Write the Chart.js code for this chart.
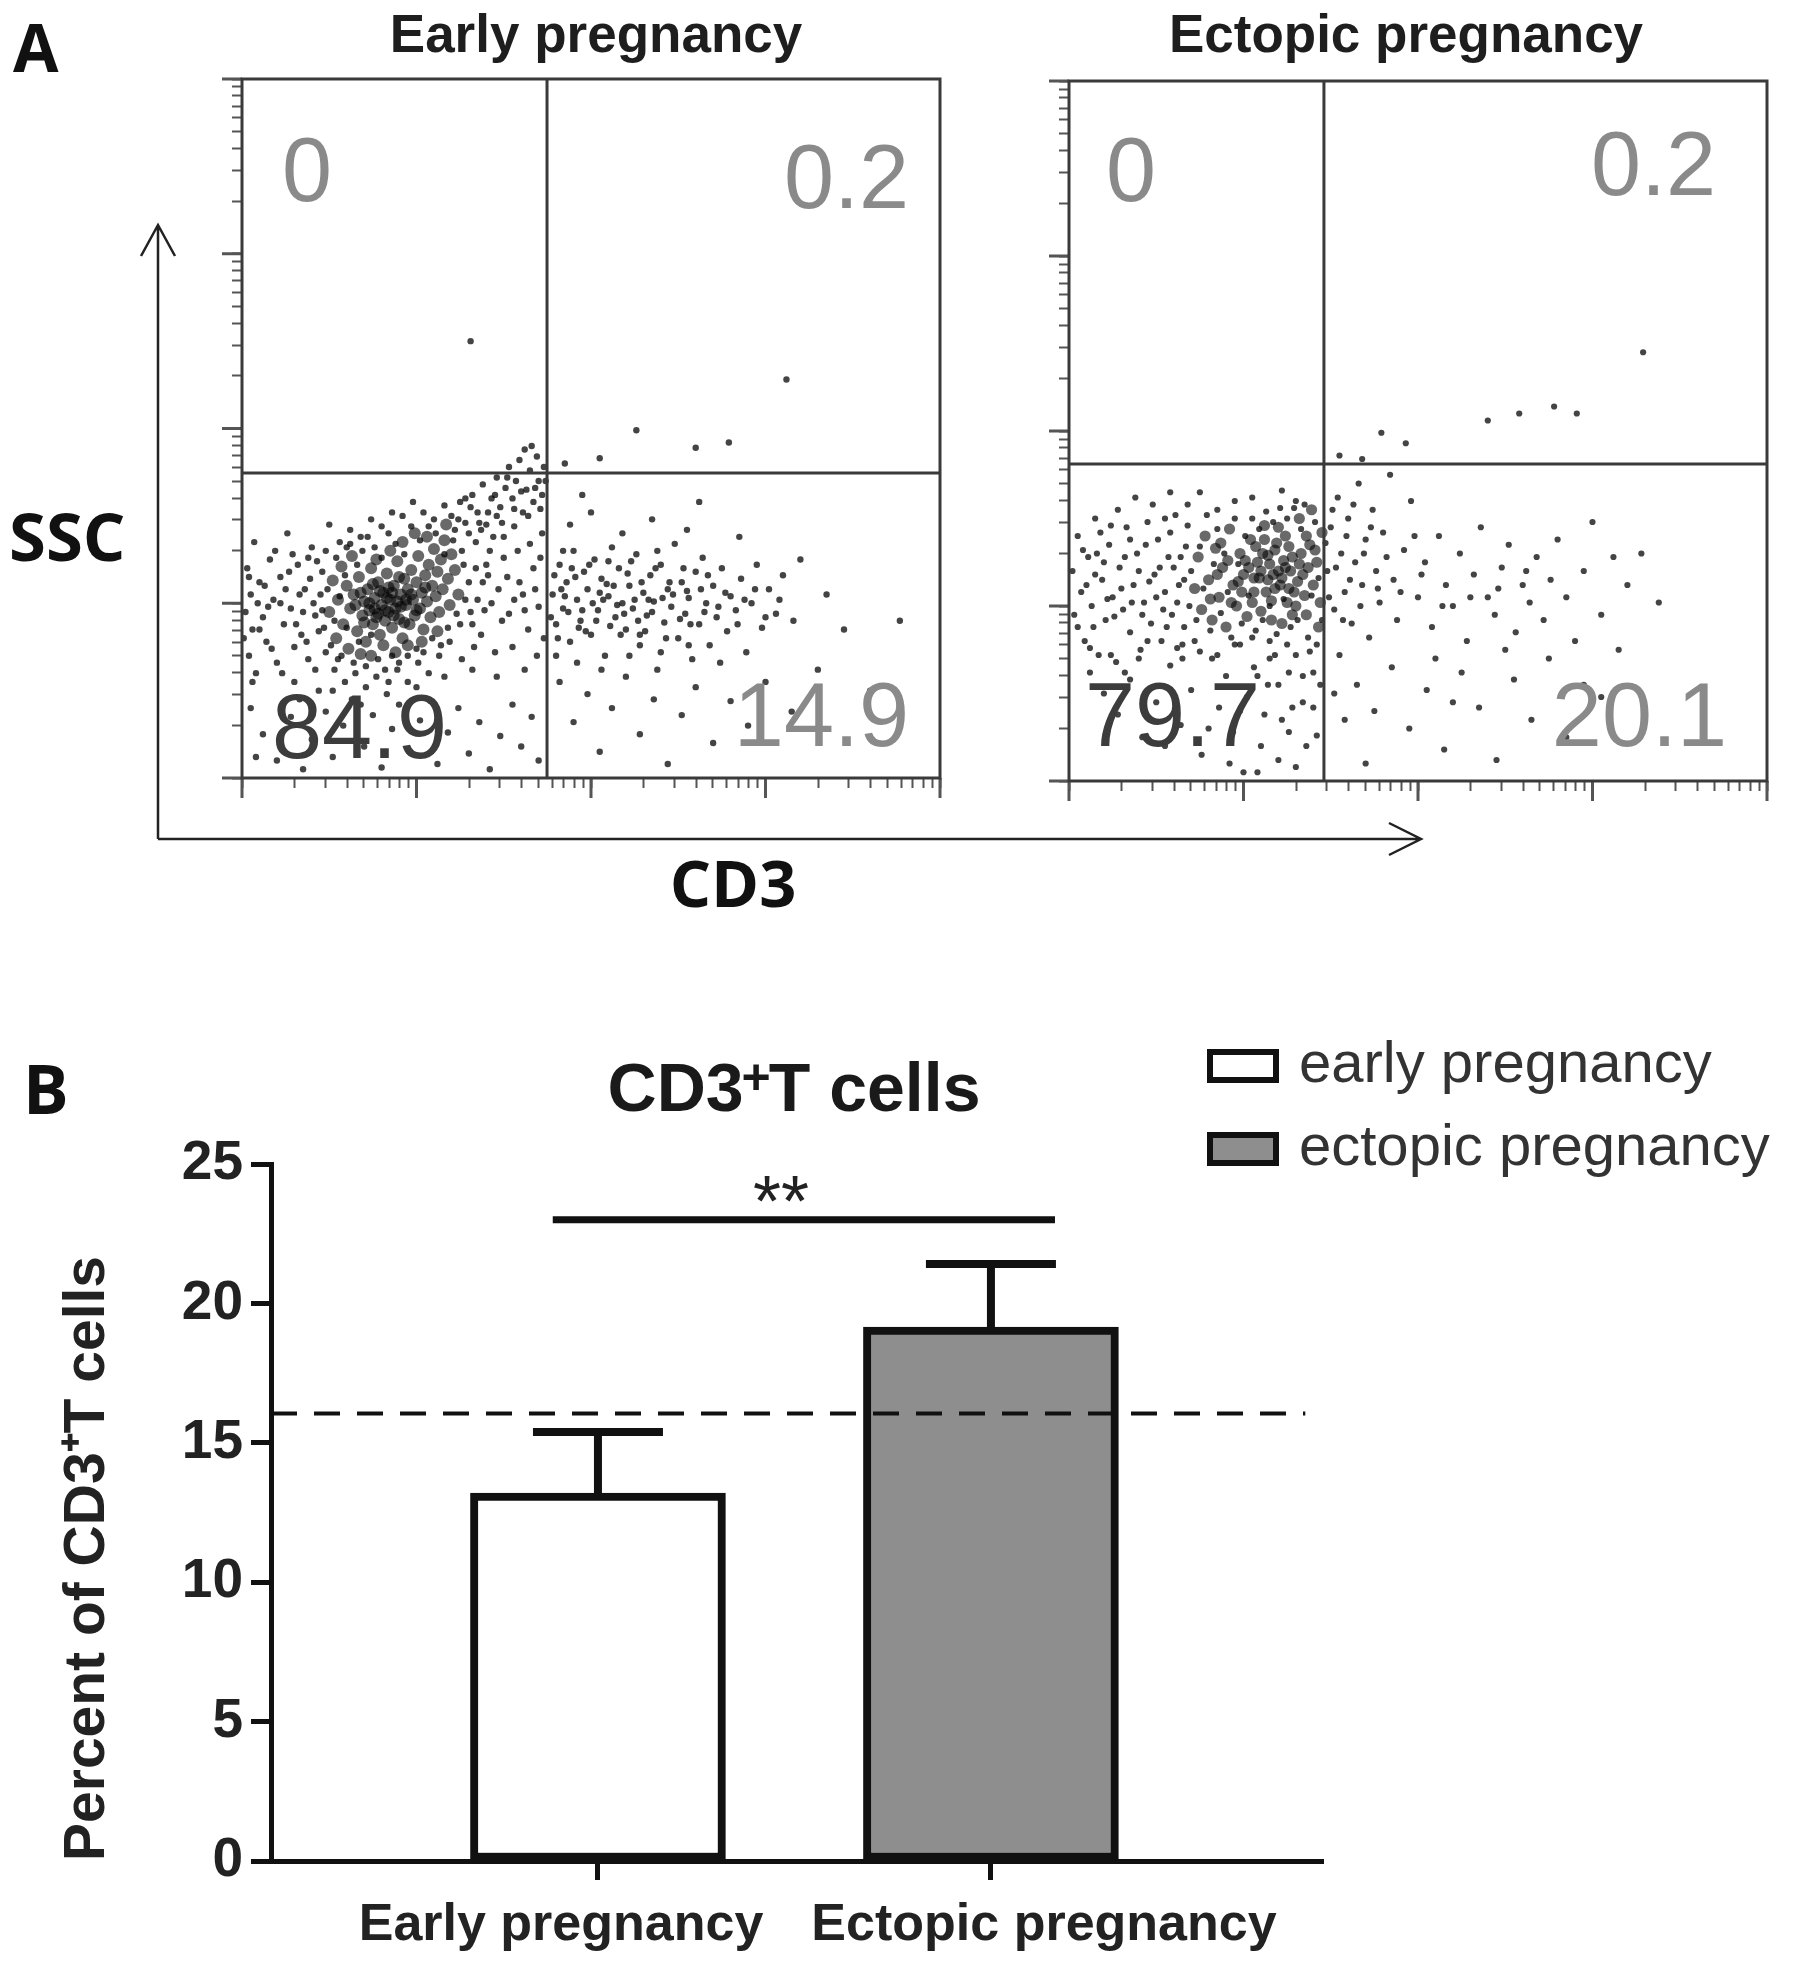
<!DOCTYPE html>
<html>
<head>
<meta charset="utf-8">
<script src="https://cdn.jsdelivr.net/npm/chart.js@4.4.1/dist/chart.umd.min.js"></script>
<style>
  body { margin: 0; background: #fff; width: 1795px; height: 1968px; position: relative; overflow: hidden; }
  canvas { position: absolute; }
  svg { position: absolute; left: 0; top: 0; pointer-events: none; }
</style>
</head>
<body>
<canvas id="earlyPlot" width="960" height="860" style="left:0;top:0"></canvas>
<canvas id="ectopicPlot" width="835" height="860" style="left:960px;top:0"></canvas>
<canvas id="barPlot" width="1795" height="938" style="left:0;top:1030px"></canvas>
<svg width="1795" height="1968" font-family="Open Sans" fill="#111">
  <text x="13" y="72" font-size="66" font-weight="700">A</text>
  <text x="23" y="1114" font-size="68" font-weight="700">B</text>
  <text x="9" y="561" font-size="67" font-weight="700">SSC</text>
  <text x="733" y="907" font-size="65" font-weight="700" text-anchor="middle">CD3</text>
  <path d="M158 839 V226 M141 256 L158 225 L175 256 M158 839 H1420 M1389 823 L1421 839 L1389 855"
        stroke="#222" stroke-width="2.5" fill="none"/>
</svg>
<script>
// ---- panel A: flow plots, positions in decades above 10 (x = CD3, y = SSC) ----
var earlyCore = [
  [0.50,0.95],[0.55,1.02],[0.58,0.88],[0.60,1.10],[0.62,0.97],[0.64,1.05],[0.66,0.84],[0.67,1.15],[0.69,0.93],[0.70,1.01],
  [0.71,0.78],[0.72,1.08],[0.73,0.96],[0.74,1.20],[0.75,0.88],[0.76,1.03],[0.77,0.92],[0.78,1.12],[0.79,0.82],[0.80,0.99],
  [0.81,1.06],[0.82,0.90],[0.83,1.17],[0.84,0.95],[0.85,1.02],[0.86,0.86],[0.87,1.10],[0.88,0.97],[0.89,1.24],[0.90,0.91],
  [0.91,1.05],[0.92,0.80],[0.93,1.14],[0.94,0.99],[0.95,1.08],[0.96,0.88],[0.97,1.19],[0.98,1.02],[0.99,0.93],[1.00,1.12],
  [1.01,1.27],[1.02,0.97],[1.03,1.06],[1.04,0.85],[1.05,1.16],[1.06,1.01],[1.07,1.22],[1.08,0.92],[1.09,1.10],[1.10,1.31],
  [1.11,1.04],[1.12,1.18],[1.13,0.95],[1.14,1.25],[1.15,1.08],[1.16,1.36],[1.18,1.14],[1.19,0.99],[1.20,1.28],[1.22,1.19],
  [0.52,1.13],[0.54,0.80],[0.57,1.21],[0.61,0.74],[0.63,1.27],[0.68,0.71],[0.65,0.99],[0.74,0.70],[0.77,1.25],[0.81,0.76],
  [0.85,1.30],[0.88,0.72],[0.92,1.35],[0.95,0.76],[0.99,1.40],[1.03,0.78],[1.06,1.38],[1.12,0.84],[1.17,1.45],[1.24,1.05],
  [0.70,0.89],[0.76,0.97],[0.83,1.03],[0.87,0.93],[0.91,0.98],[0.79,1.07],[0.73,1.00],[0.94,1.02],[0.86,1.06],[0.82,0.96],
  [0.97,1.05],[0.89,1.01],[0.78,0.94],[0.84,1.09],[0.90,1.15],[1.00,0.96],[0.75,1.11],[0.68,1.06],[0.93,0.89],[1.05,1.09]
];
var earlyEvents = [
  [0.02,0.95],[0.03,1.20],[0.04,0.70],[0.05,1.05],[0.06,0.85],[0.07,1.35],[0.08,0.60],[0.10,1.12],[0.12,0.92],[0.14,0.78],
  [0.16,1.25],[0.18,1.02],[0.20,0.66],[0.22,1.15],[0.24,0.88],[0.26,1.40],[0.28,0.97],[0.30,0.55],[0.32,1.22],[0.34,0.82],
  [0.36,1.08],[0.38,0.68],[0.40,1.32],[0.42,0.93],[0.44,0.50],[0.46,1.18],[0.48,0.72],[0.50,1.45],[0.53,0.62],[0.56,1.35],
  [0.59,0.55],[0.62,1.42],[0.65,0.60],[0.68,1.38],[0.71,0.52],[0.74,1.48],[0.77,0.58],[0.80,1.44],[0.83,0.48],[0.86,1.52],
  [0.89,0.62],[0.92,1.50],[0.95,0.55],[0.98,1.58],[1.01,0.66],[1.04,1.52],[1.07,0.60],[1.10,1.48],[1.13,0.70],[1.16,1.56],
  [1.19,0.78],[1.22,1.42],[1.25,0.88],[1.28,1.60],[1.31,0.95],[1.34,1.35],[1.37,0.82],[1.40,1.22],[1.43,1.00],[1.46,1.50],
  [1.49,0.90],[1.52,1.15],[1.55,0.75],[1.58,1.30],[1.61,1.05],[1.64,0.85],[1.67,1.20],[1.70,0.98],[1.72,1.40],[1.69,0.70],
  [1.30,1.12],[1.35,1.02],[1.27,1.22],[1.38,1.12],[1.42,1.30],[1.33,0.75],[1.26,0.68],[1.45,0.72],[1.50,1.38],[1.56,1.02],
  [0.35,0.95],[0.45,1.05],[0.25,1.08],[0.15,0.98],[0.38,1.26],[0.30,0.75],[0.55,0.68],[0.47,0.86],[0.60,1.32],[0.42,0.62],
  [0.22,1.00],[0.27,1.18],[0.31,0.88],[0.33,1.05],[0.37,0.78],[0.39,1.14],[0.41,1.00],[0.43,1.24],[0.44,0.84],[0.46,0.96],
  [0.48,1.30],[0.49,1.08],[0.51,0.76],[0.53,0.90],[0.54,1.26],[0.56,1.04],[0.57,0.70],[0.59,1.16],[0.60,0.86],[0.62,1.34],
  [0.64,0.66],[0.66,1.22],[0.67,0.78],[0.69,1.30],[0.71,0.64],[0.72,1.38],[0.74,0.82],[0.76,1.32],[0.78,0.68],[0.80,1.26],
  [0.82,0.62],[0.84,1.40],[0.86,0.70],[0.88,1.34],[0.90,0.66],[0.93,1.28],[0.95,0.70],[0.97,1.44],[1.00,0.74],[1.02,1.36],
  [1.04,0.72],[1.07,1.44],[1.09,0.80],[1.11,1.40],[1.14,0.76],[1.16,1.28],[1.18,0.86],[1.21,1.36],[1.23,0.94],[1.26,1.30],
  [1.28,1.02],[1.30,1.40],[1.32,0.88],[1.34,1.20],[1.36,1.46],[1.39,0.96],[1.41,1.16],[1.44,1.38],[1.47,1.08],[1.50,1.26],
  [1.53,0.94],[1.56,1.44],[1.59,1.12],[1.62,0.96],[1.65,1.34],[1.68,1.08],[1.71,1.26],[1.24,1.48],[1.31,1.55],[1.37,1.42],
  [1.41,1.52],[1.45,1.62],[1.49,1.46],[1.52,1.72],[1.56,1.54],[1.60,1.64],[1.64,1.50],[1.68,1.66],[1.71,1.54],[1.74,1.70],
  [0.10,0.85],[0.13,1.10],[0.17,0.74],[0.19,1.30],[0.23,0.60],[0.29,1.28],[0.09,1.00],[0.04,1.15],[0.01,0.80],[0.06,0.55],
  [0.33,0.45],[0.52,0.50],[0.68,0.42],[0.84,0.55],[1.00,0.52],[1.16,0.58],[1.32,0.62],[1.46,0.58],[1.62,0.62],[1.73,0.80],
  [1.20,1.50],[1.25,1.58],[1.28,1.46],[1.32,1.62],[1.35,1.52],[1.38,1.68],[1.40,1.45],[1.43,1.60],[1.46,1.72],[1.48,1.55],
  [1.51,1.66],[1.53,1.78],[1.55,1.60],[1.57,1.70],[1.59,1.82],[1.61,1.52],[1.63,1.65],[1.65,1.76],[1.67,1.58],[1.69,1.84],
  [1.70,1.70],[1.72,1.62],[1.73,1.78],[1.62,1.88],[1.66,1.90],
  [0.05,0.40],[0.12,0.25],[0.20,0.10],[0.28,0.35],[0.35,0.05],[0.40,0.22],[0.48,0.38],[0.52,0.12],[0.58,0.30],[0.63,0.45],
  [0.70,0.18],[0.75,0.36],[0.80,0.06],[0.86,0.28],[0.90,0.42],[0.96,0.15],[1.02,0.33],[1.08,0.44],[1.12,0.08],[1.18,0.26],
  [1.24,0.40],[1.30,0.14],[1.36,0.32],[1.42,0.05],[1.48,0.24],[1.55,0.42],[1.60,0.18],[1.66,0.35],[1.70,0.10],[0.08,0.12],
  [1.78,1.05],[1.80,0.88],[1.82,1.22],[1.84,0.97],[1.86,1.12],[1.88,0.78],[1.90,1.30],[1.92,1.02],[1.94,0.90],[1.96,1.18],
  [1.98,1.08],[2.00,0.82],[2.02,1.25],[2.04,0.96],[2.06,1.14],[2.08,0.70],[2.10,1.04],[2.12,1.32],[2.14,0.92],[2.16,1.20],
  [2.18,1.00],[2.20,0.85],[2.22,1.10],[2.24,0.97],[2.26,1.28],[2.28,0.76],[2.30,1.06],[2.32,0.93],[2.34,1.16],[2.36,1.01],
  [2.38,0.62],[2.40,1.22],[2.42,0.89],[2.44,1.08],[2.46,0.98],[2.48,1.34],[2.50,0.80],[2.52,1.12],[2.54,0.94],[2.56,1.03],
  [2.58,0.68],[2.60,1.18],[2.62,0.88],[2.64,1.26],[2.66,1.00],[2.68,0.76],[2.70,1.10],[2.72,0.92],[2.75,1.20],[2.78,0.84],
  [2.80,1.04],[2.83,0.96],[2.86,1.14],[2.89,0.72],[2.92,1.00],[2.95,1.22],[2.98,0.86],[3.02,1.08],[3.06,0.94],[3.10,1.16],
  [1.85,1.04],[1.95,0.96],[2.05,1.06],[2.15,0.99],[2.25,1.02],[2.35,0.95],[2.45,1.12],[2.55,1.07],[2.11,0.87],[2.21,1.17],
  [2.31,0.84],[1.91,1.15],[2.01,1.00],[2.41,1.03],[2.51,0.91],[2.65,0.95],[2.19,0.94],[2.29,1.12],[1.97,0.84],[2.09,1.11],
  [1.77,0.92],[1.79,1.16],[1.81,0.80],[1.83,1.08],[1.87,0.95],[1.89,1.20],[1.93,0.86],[1.99,1.22],[2.03,0.90],[2.07,1.02],
  [2.13,1.10],[2.17,0.82],[2.23,1.24],[2.27,0.90],[2.33,1.02],[2.37,1.20],[2.43,0.80],[2.47,1.05],[2.53,1.20],[2.57,0.88],
  [2.63,1.08],[2.67,1.16],[2.73,0.98],[2.77,1.06],[2.84,0.88],[2.88,1.02],[2.94,1.08],[3.00,0.92],[3.08,1.02],[3.16,0.90],
  [1.80,0.70],[1.92,0.66],[2.06,0.62],[2.22,0.70],[2.40,0.72],[2.56,0.76],[2.74,0.66],[1.84,1.30],[2.10,1.24],[2.38,1.30],
  [1.82,0.55],[1.90,0.32],[1.98,0.48],[2.05,0.15],[2.12,0.40],[2.20,0.58],[2.28,0.25],[2.36,0.45],[2.44,0.08],[2.52,0.36],
  [2.60,0.52],[2.70,0.20],[2.80,0.44],[2.90,0.30],[3.00,0.55],[3.15,0.38],[3.30,0.62],[3.45,0.85],[3.60,0.50],[3.77,0.90],
  [1.88,1.45],[2.00,1.52],[2.18,1.40],[2.35,1.48],[2.55,1.42],[2.85,1.38],[3.20,1.25],[3.35,1.05],[1.95,1.62],[2.62,1.58],
  [1.31,2.50],[3.12,2.28],[2.26,1.99],[2.79,1.92],[2.60,1.89],[1.85,1.80],[2.05,1.83],[2.28,0.82]
];
var ectopicCore = [
  [0.72,1.10],[0.74,1.28],[0.76,0.98],[0.78,1.40],[0.80,1.15],[0.82,0.92],[0.84,1.33],[0.86,1.05],[0.88,1.22],[0.90,0.88],
  [0.92,1.44],[0.94,1.12],[0.96,1.00],[0.98,1.30],[1.00,1.18],[1.02,0.94],[1.04,1.38],[1.06,1.08],[1.08,1.25],[1.10,0.97],
  [1.12,1.46],[1.14,1.15],[1.16,1.03],[1.18,1.32],[1.20,1.20],[1.22,0.90],[1.24,1.40],[1.26,1.10],[1.28,1.28],[1.30,1.00],
  [1.32,1.50],[1.34,1.18],[1.36,0.95],[1.38,1.35],[1.40,1.12],[1.42,1.25],[1.44,1.02],[1.45,1.42],[1.43,0.88],[1.39,1.55],
  [0.85,1.18],[0.91,1.26],[0.97,1.14],[1.03,1.22],[1.09,1.16],[1.15,1.24],[1.21,1.12],[1.27,1.20],[1.33,1.30],[1.13,1.08],
  [1.05,1.02],[1.19,1.36],[1.25,1.02],[1.31,1.14],[1.37,1.22],[0.99,1.08],[1.11,1.30],[1.17,1.18],[1.23,1.26],[1.29,1.08],
  [1.07,1.34],[0.93,1.02],[1.01,1.26],[1.35,1.06],[1.41,1.32],[0.81,1.04],[0.87,1.36],[1.20,1.45],[1.28,0.95],[1.16,0.92],
  [1.10,1.20],[1.22,1.16],[1.18,1.10],[1.14,1.29],[1.26,1.34],[1.06,1.16],[1.32,1.24],[1.12,1.38],[1.24,1.22],[1.36,1.40]
];
var ectopicEvents = [
  [0.02,1.20],[0.03,0.95],[0.05,1.40],[0.07,1.08],[0.09,0.80],[0.11,1.28],[0.13,1.00],[0.15,1.50],[0.17,0.72],[0.19,1.15],
  [0.21,0.92],[0.23,1.35],[0.25,1.05],[0.27,0.68],[0.29,1.22],[0.31,0.98],[0.33,1.45],[0.35,0.85],[0.37,1.12],[0.39,1.30],
  [0.41,0.75],[0.43,1.02],[0.45,1.48],[0.47,0.90],[0.49,1.18],[0.51,1.38],[0.53,0.80],[0.55,1.08],[0.57,1.28],[0.59,0.95],
  [0.61,1.52],[0.63,1.12],[0.65,0.70],[0.67,1.34],[0.69,1.00],[0.10,1.12],[0.20,1.25],[0.30,1.10],[0.40,1.20],[0.50,1.05],
  [0.60,1.22],[0.14,0.88],[0.26,0.94],[0.36,1.02],[0.46,1.14],[0.56,0.88],[0.66,1.15],[0.08,1.32],[0.18,1.42],[0.28,1.55],
  [0.38,1.62],[0.48,1.58],[0.58,1.65],[0.68,1.58],[0.75,1.65],[0.95,1.60],[1.05,1.62],[1.22,1.66],[1.30,1.60],[0.85,1.55],
  [0.15,1.18],[0.22,1.04],[0.32,1.28],[0.42,0.95],[0.44,1.35],[0.52,1.22],[0.54,0.98],[0.58,1.42],[0.62,1.02],[0.64,1.28],
  [0.66,0.88],[0.68,1.46],[0.70,1.20],[0.73,0.92],[0.75,1.34],[0.77,1.10],[0.79,1.52],[0.81,0.86],[0.83,1.24],[0.85,1.44],
  [0.87,0.96],[0.89,1.30],[0.91,1.08],[0.93,0.82],[0.95,1.50],[0.97,1.24],[0.99,0.90],[1.01,1.40],[1.03,1.06],[1.05,1.50],
  [1.07,0.86],[1.09,1.44],[1.11,0.92],[1.13,1.54],[1.15,1.00],[1.17,1.48],[1.19,0.84],[1.21,1.56],[1.23,1.04],[1.25,1.50],
  [1.27,0.88],[1.29,1.56],[1.31,0.92],[1.33,1.44],[1.35,1.58],[1.37,0.82],[1.39,1.06],[1.41,1.48],[1.43,1.16],[1.45,0.92],
  [0.35,1.38],[0.45,0.80],[0.55,1.50],[0.65,0.78],[0.75,0.74],[0.85,0.72],[0.95,0.78],[1.15,0.70],[1.30,0.72],[1.42,0.78],
  [0.12,0.76],[0.05,0.88],[0.24,1.46],[0.16,1.30],[0.32,0.62],[1.08,0.60],[1.20,0.55],[1.34,0.60],[1.40,0.42],[1.26,0.28],
  [0.12,0.62],[0.20,0.50],[0.28,0.38],[0.35,0.58],[0.42,0.25],[0.50,0.45],[0.58,0.66],[0.64,0.32],[0.70,0.52],[0.76,0.15],
  [0.82,0.70],[0.86,0.42],[0.90,0.60],[0.94,0.28],[0.98,0.78],[1.02,0.48],[1.06,0.65],[1.10,0.20],[1.14,0.55],[1.18,0.72],
  [1.22,0.35],[1.26,0.62],[1.30,0.08],[1.34,0.45],[1.38,0.74],[1.42,0.26],[1.44,0.55],[1.05,0.82],[1.15,0.80],[1.25,0.78],
  [0.72,0.80],[0.62,0.76],[0.92,0.10],[1.20,0.12],[1.36,0.20],[0.80,0.30],[1.00,0.05],[1.28,0.42],[1.40,0.62],[1.12,0.38],
  [0.40,0.70],[0.24,0.72],[0.55,0.20],[1.08,0.05],[0.98,0.40],
  [1.48,1.20],[1.50,1.45],[1.52,0.98],[1.54,1.62],[1.56,1.30],[1.58,1.08],[1.60,1.50],[1.62,0.90],[1.64,1.25],[1.66,1.70],
  [1.68,1.12],[1.70,1.38],[1.72,0.82],[1.74,1.55],[1.76,1.20],[1.78,1.02],[1.80,1.42],[1.84,1.75],[1.86,1.15],[1.88,0.92],
  [1.92,1.32],[1.96,1.60],[2.00,1.05],[2.04,1.25],[2.08,0.88],[2.12,1.40],[2.16,1.12],[2.20,1.00],[2.24,1.30],[2.28,0.80],
  [2.32,1.18],[2.36,1.45],[2.40,1.05],[2.44,0.95],[2.48,1.22],[2.52,1.35],[2.56,0.85],[2.60,1.12],[2.64,1.02],[2.68,1.28],
  [2.72,0.92],[2.76,1.15],[2.80,1.38],[2.85,1.05],[2.90,0.80],[2.95,1.20],[3.00,1.48],[3.05,0.95],[3.12,1.28],[3.20,1.12],
  [3.28,1.30],[3.38,1.02],[1.55,0.72],[1.65,0.55],[1.75,0.40],[1.85,0.65],[1.95,0.30],[2.05,0.52],[2.15,0.18],[2.25,0.62],
  [2.35,0.42],[2.45,0.12],[2.55,0.58],[2.65,0.35],[2.75,0.70],[2.85,0.25],[2.95,0.55],[3.05,0.48],[3.15,0.75],[1.58,0.35],
  [1.70,0.10],[2.10,0.70],[2.50,0.75],[1.52,0.50],[2.20,0.45],
  [1.47,1.36],[1.49,1.05],[1.51,1.55],[1.53,1.22],[1.57,0.92],[1.59,1.40],[1.61,1.15],[1.63,1.58],[1.67,1.00],[1.69,1.30],
  [1.73,1.45],[1.77,1.10],[1.82,1.28],[1.90,1.08],[1.98,1.40],[2.02,1.18],[2.14,1.00],[2.30,1.05],[2.46,1.10],[2.62,1.20],
  [1.79,1.99],[1.93,1.93],[2.40,2.06],[2.58,2.10],[2.78,2.14],[2.91,2.10],[3.29,2.45],[1.55,1.86],[1.68,1.84]
];
var earlyGate = [1.748, 1.745];
var ectopicGate = [1.461, 1.811];
var earlyQuadrants = ['0', '0.2', '84.9', '14.9'];
var ectopicQuadrants = ['0', '0.2', '79.7', '20.1'];
var tickDecades = [10, 100, 1000, 10000];
var tickSteps = [1, 2, 3, 4, 5, 6, 7, 8, 9];

// ---- panel B: bar chart ----
var groups = ['Early pregnancy', 'Ectopic pregnancy'];
var legendNames = ['early pregnancy', 'ectopic pregnancy'];
var meanPct = [13.2, 19.15];
var semPct = [2.19, 2.26];
var refLine = 16.05;
var sigLevel = 23;
var yTicks = [0, 5, 10, 15, 20, 25];

var logTicks = [];
tickDecades.forEach(function(d){ tickSteps.forEach(function(s){ logTicks.push(d * s); }); });
logTicks.push(100000);

function toXY(pts) {
  return pts.map(function(p){ return {x: Math.pow(10, 1 + p[0]), y: Math.pow(10, 1 + p[1])}; });
}

var flowFrame = {
  id: 'flowFrame',
  afterDatasetsDraw: function(chart, args, o) {
    var ctx = chart.ctx, a = chart.chartArea, x = chart.scales.x, y = chart.scales.y;
    ctx.save();
    ctx.strokeStyle = '#555';
    ctx.lineWidth = 3;
    tickDecades.concat([100000]).forEach(function(v){
      var px = x.getPixelForValue(v), py = y.getPixelForValue(v);
      ctx.beginPath();
      ctx.moveTo(px, a.bottom); ctx.lineTo(px, a.bottom + 20);
      ctx.moveTo(a.left, py); ctx.lineTo(a.left - 20, py);
      ctx.stroke();
    });
    var gx = x.getPixelForValue(Math.pow(10, 1 + o.gate[0]));
    var gy = y.getPixelForValue(Math.pow(10, 1 + o.gate[1]));
    ctx.strokeStyle = '#3a3a3a';
    ctx.beginPath();
    ctx.moveTo(gx, a.top); ctx.lineTo(gx, a.bottom);
    ctx.moveTo(a.left, gy); ctx.lineTo(a.right, gy);
    ctx.stroke();
    ctx.strokeRect(a.left, a.top, a.right - a.left, a.bottom - a.top);

    ctx.fillStyle = '#1e1e1e';
    ctx.font = 'bold 53px "Liberation Sans"';
    ctx.textAlign = 'center';
    ctx.textBaseline = 'middle';
    ctx.fillText(o.title, (a.left + a.right) / 2 + o.titleShift, 37);

    ctx.font = '90px "Liberation Sans"';
    ctx.textBaseline = 'alphabetic';
    o.quadPos.forEach(function(q, i){
      ctx.fillStyle = q[3];
      ctx.textAlign = q[2];
      var px = q[2] === 'left' ? a.left + q[0] : a.right - q[0];
      var py = q[1] > 0 ? a.top + q[1] : a.bottom + q[1];
      ctx.fillText(o.labels[i], px, py);
    });
    ctx.restore();
  }
};

function flowChart(id, title, titleShift, core, events, gate, labels, quadPos, pad, sizes) {
  var axis = function(isX) {
    return {
      type: 'logarithmic', min: 10, max: 100000,
      afterBuildTicks: function(s){ s.ticks = logTicks.map(function(v){ return {value: v}; }); },
      afterFit: function(s){ if (isX) { s.height = 30; } else { s.width = 30; } },
      ticks: { autoSkip: false, callback: function(){ return ''; } },
      grid: { drawOnChartArea: false, tickLength: 10, tickColor: '#555', tickWidth: 2 },
      border: { display: false }
    };
  };
  return new Chart(document.getElementById(id), {
    type: 'scatter',
    data: {
      datasets: [
        { label: 'core', data: toXY(core), pointRadius: sizes[0], borderWidth: 0, backgroundColor: 'rgba(5,5,5,0.6)' },
        { label: 'events', data: toXY(events), pointRadius: sizes[1], borderWidth: 0, backgroundColor: 'rgba(5,5,5,0.75)' }
      ]
    },
    options: {
      responsive: false,
      animation: false,
      devicePixelRatio: 1,
      layout: { padding: pad },
      plugins: {
        legend: { display: false },
        tooltip: { enabled: false },
        flowFrame: { title: title, titleShift: titleShift, gate: gate, labels: labels, quadPos: quadPos }
      },
      scales: { x: axis(true), y: axis(false) }
    },
    plugins: [flowFrame]
  });
}

flowChart('earlyPlot', 'Early pregnancy', 5, earlyCore, earlyEvents, earlyGate, earlyQuadrants,
  [[40, 122, 'left', '#8a8a8a'], [31, 129, 'right', '#8a8a8a'], [30, -20, 'left', '#3c3c3c'], [31, -32, 'right', '#8a8a8a']],
  { left: 212, top: 79, right: 20, bottom: 52 }, [6, 3.2]);
flowChart('ectopicPlot', 'Ectopic pregnancy', -12, ectopicCore, ectopicEvents, ectopicGate, ectopicQuadrants,
  [[37, 120, 'left', '#8a8a8a'], [51, 114, 'right', '#8a8a8a'], [16, -35, 'left', '#3c3c3c'], [40, -35, 'right', '#8a8a8a']],
  { left: 79, top: 81, right: 28, bottom: 49 }, [5.6, 3.1]);

// ---- bar chart ----
var tickMarkPos = [1, 2];
var labelPos = [0.906, 2.135];

var barExtras = {
  id: 'barExtras',
  afterDatasetsDraw: function(chart) {
    var ctx = chart.ctx, a = chart.chartArea, x = chart.scales.x, y = chart.scales.y;
    ctx.save();
    ctx.strokeStyle = '#111';
    // dashed reference line
    var ry = y.getPixelForValue(refLine);
    ctx.lineWidth = 4;
    ctx.setLineDash([26, 17]);
    ctx.beginPath(); ctx.moveTo(a.left, ry); ctx.lineTo(x.getPixelForValue(2.8), ry); ctx.stroke();
    ctx.setLineDash([]);
    // error bars (upper only)
    chart.data.datasets.forEach(function(ds, i){
      var bar = chart.getDatasetMeta(i).data[0];
      var top = y.getPixelForValue(meanPct[i] + semPct[i]);
      ctx.lineWidth = 8;
      ctx.beginPath();
      ctx.moveTo(bar.x, bar.y); ctx.lineTo(bar.x, top);
      ctx.moveTo(bar.x - 65, top); ctx.lineTo(bar.x + 65, top);
      ctx.stroke();
    });
    // significance bar
    var sy = y.getPixelForValue(sigLevel);
    ctx.lineWidth = 7;
    ctx.beginPath(); ctx.moveTo(x.getPixelForValue(0.885), sy); ctx.lineTo(x.getPixelForValue(2.163), sy); ctx.stroke();
    ctx.fillStyle = '#222';
    ctx.font = '72px "Liberation Sans"';
    ctx.textAlign = 'center';
    ctx.textBaseline = 'alphabetic';
    ctx.fillText('**', x.getPixelForValue(1.466), sy + 6);

    // title with superscript
    ctx.fillStyle = '#1a1a1a';
    ctx.textAlign = 'left';
    var big = 'bold 68px "Liberation Sans"', small = 'bold 50px "Liberation Sans"';
    ctx.font = big; var w1 = ctx.measureText('CD3').width, w3 = ctx.measureText('T cells').width;
    ctx.font = small; var w2 = ctx.measureText('+').width - 4;
    var tx = 794 - (w1 + w2 + w3) / 2;
    ctx.font = big; ctx.fillText('CD3', tx, 81);
    ctx.font = small; ctx.fillText('+', tx + w1 - 2, 64);
    ctx.font = big; ctx.fillText('T cells', tx + w1 + w2, 81);

    // legend
    ctx.font = '58px "Liberation Sans"';
    ctx.textBaseline = 'middle';
    chart.data.datasets.forEach(function(ds, i){
      var top = 22 + i * 83;
      ctx.fillStyle = ds.backgroundColor;
      ctx.fillRect(1210, top, 66, 28);
      ctx.lineWidth = 6;
      ctx.strokeStyle = '#111';
      ctx.strokeRect(1210, top, 66, 28);
      ctx.fillStyle = '#333';
      ctx.fillText(ds.label, 1299, top + 14);
    });
    ctx.restore();
  }
};

new Chart(document.getElementById('barPlot'), {
  type: 'bar',
  data: {
    datasets: [
      { label: legendNames[0], data: [{x: 1, y: meanPct[0]}], backgroundColor: '#ffffff', borderColor: '#111', borderWidth: 8, borderSkipped: false, barThickness: 255, grouped: false },
      { label: legendNames[1], data: [{x: 2, y: meanPct[1]}], backgroundColor: '#8e8e8e', borderColor: '#111', borderWidth: 8, borderSkipped: false, barThickness: 255, grouped: false }
    ]
  },
  options: {
    responsive: false,
    animation: false,
    devicePixelRatio: 1,
    layout: { padding: { left: 40, top: 134, right: 472, bottom: 0 } },
    plugins: { legend: { display: false }, tooltip: { enabled: false } },
    scales: {
      x: {
        type: 'linear', min: 0.168, max: 2.845, offset: false,
        afterBuildTicks: function(s){
          s.ticks = tickMarkPos.concat(labelPos).map(function(v){ return {value: v}; });
        },
        afterFit: function(s){ s.height = 107; },
        ticks: {
          autoSkip: false, maxRotation: 0, minRotation: 0, padding: 14,
          color: '#222', font: { family: 'Liberation Sans', size: 52, weight: 'bold' },
          callback: function(v){ var i = labelPos.indexOf(v); return i >= 0 ? groups[i] : ''; }
        },
        grid: {
          offset: false, drawOnChartArea: false, tickLength: 19, tickWidth: 5,
          tickColor: function(c){ return c.tick && labelPos.indexOf(c.tick.value) >= 0 ? 'rgba(0,0,0,0)' : '#111'; }
        },
        border: { display: true, width: 5, color: '#111' }
      },
      y: {
        min: 0, max: 25,
        afterBuildTicks: function(s){ s.ticks = yTicks.map(function(v){ return {value: v}; }); },
        afterFit: function(s){ s.width = 231; },
        ticks: { padding: 8, color: '#222', font: { family: 'Liberation Sans', size: 55, weight: 'bold' } },
        grid: { drawOnChartArea: false, tickLength: 20, tickWidth: 5, tickColor: '#111' },
        border: { display: true, width: 5, color: '#111' },
        title: {
          display: true, text: 'Percent of CD3\u207AT cells', align: 'start',
          color: '#222', font: { family: 'Liberation Sans', size: 57, weight: 'bold' },
          padding: { top: 14, bottom: 0 }
        }
      }
    }
  },
  plugins: [barExtras]
});
</script>
</body>
</html>
